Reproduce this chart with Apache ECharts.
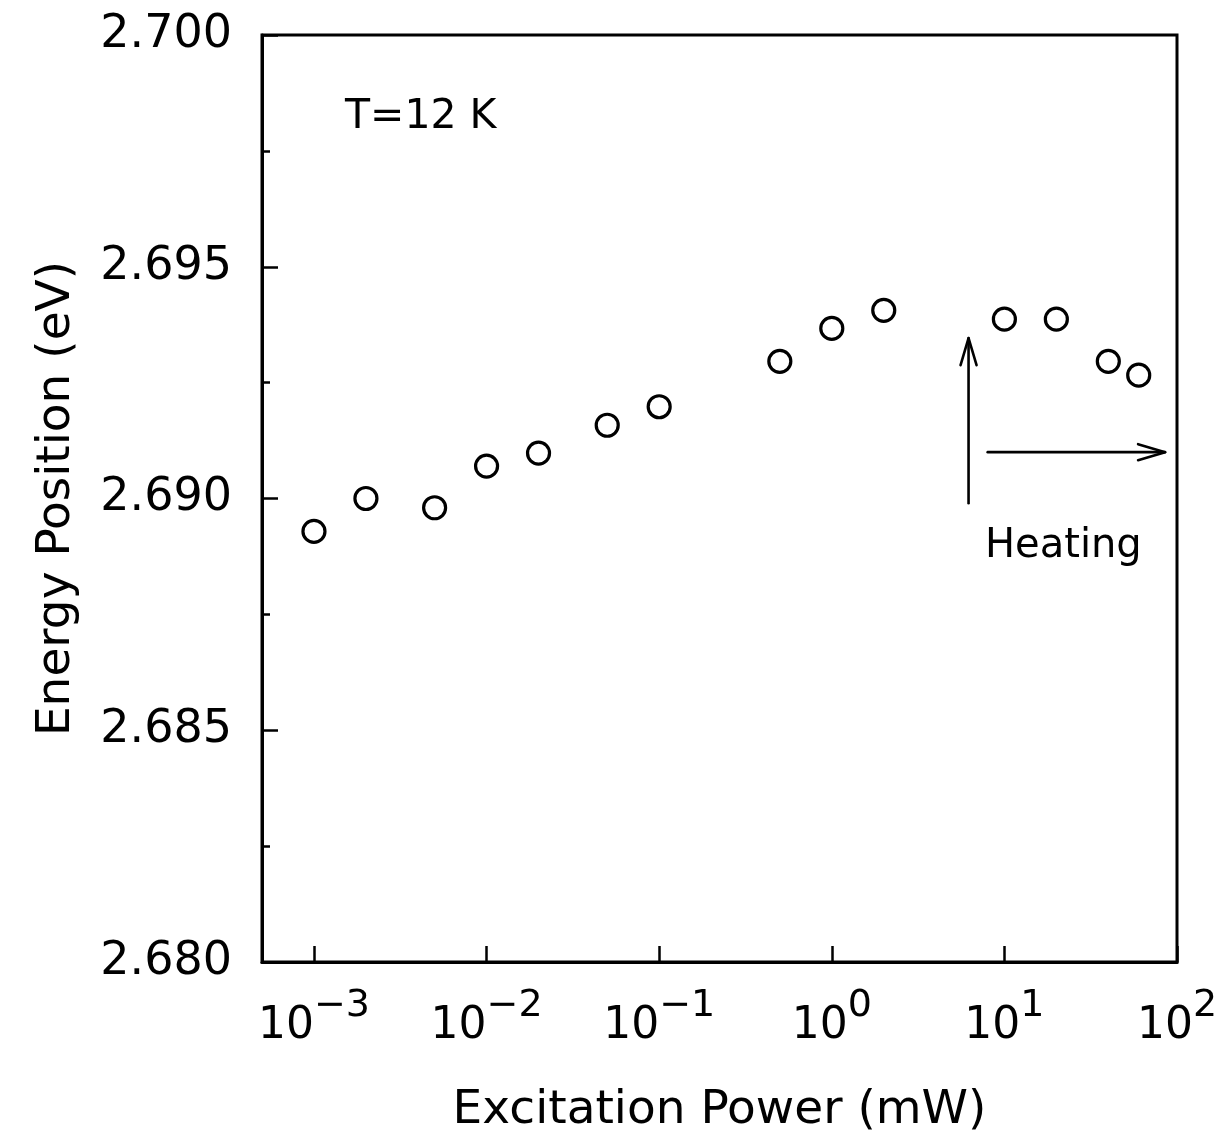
<!DOCTYPE html>
<html>
<head>
<meta charset="utf-8">
<title>Energy Position vs Excitation Power</title>
<script src="https://cdn.jsdelivr.net/npm/echarts@6/dist/echarts.min.js"></script>
<style>
  html, body { margin: 0; padding: 0; background: #fff; }
  #chart { width: 1227px; height: 1138px; }
</style>
</head>
<body>
<div id="chart"></div>
<script>
// Excitation power (mW) and PL peak energy position (eV) at T = 12 K
const power = [0.001, 0.002, 0.005, 0.01, 0.02, 0.05, 0.1, 0.5, 1, 2, 10, 20, 40, 60];
const energy = [2.68929, 2.69000, 2.68980, 2.69070, 2.69098, 2.69158, 2.69198,
                2.69296, 2.69367, 2.69406, 2.69387, 2.69387, 2.69296, 2.69266];

// Axis ranges and labelled decades
const xRange = [0.0005, 100];
const yRange = [2.680, 2.700];
const xDecades = [-3, -2, -1, 0, 1, 2];

// "Heating" annotation arrows: [start, end] in data coordinates
const arrowUp = [[6.2, 2.68990], [6.2, 2.69346]];
const arrowRight = [[8.0, 2.69100], [85.3, 2.69100]];

const FONT = 'DejaVu Sans';

const chart = echarts.init(document.getElementById('chart'), null, { renderer: 'canvas' });

chart.setOption({
  animation: false,
  backgroundColor: '#fff',
  grid: {
    left: 262, right: 50, top: 35, bottom: 176,
    containLabel: false,
    outerBoundsMode: 'none',
    show: true,
    borderColor: '#000',
    borderWidth: 3,
    backgroundColor: 'transparent'
  },
  xAxis: {
    type: 'log',
    logBase: 10,
    min: xRange[0],
    max: xRange[1],
    name: 'Excitation Power (mW)',
    nameLocation: 'middle',
    nameGap: 125,
    nameTextStyle: { fontFamily: FONT, fontSize: 47, color: '#000' },
    axisLine: { show: true, lineStyle: { color: '#000', width: 3 } },
    axisTick: { show: true, inside: true, length: 16, lineStyle: { color: '#000', width: 2.5 } },
    minorTick: { show: false },
    splitLine: { show: false },
    minorSplitLine: { show: false },
    axisLabel: {
      margin: 25,
      color: '#000',
      showMinLabel: true,
      showMaxLabel: true,
      formatter: function (v) {
        const e = Math.log10(v);
        const r = Math.round(e);
        if (Math.abs(e - r) > 1e-6 || xDecades.indexOf(r) < 0) return '';
        const exp = r < 0 ? '\u2212' + Math.abs(r) : String(r);
        return '{b|10}{s|' + exp + '}';
      },
      rich: {
        b: { fontFamily: FONT, fontSize: 44, lineHeight: 62, verticalAlign: 'bottom', color: '#000' },
        s: { fontFamily: FONT, fontSize: 38, verticalAlign: 'top', color: '#000' }
      }
    }
  },
  yAxis: {
    type: 'value',
    min: yRange[0],
    max: yRange[1],
    interval: 0.005,
    name: 'Energy Position (eV)',
    nameLocation: 'middle',
    nameGap: 182,
    nameRotate: 90,
    nameTextStyle: { fontFamily: FONT, fontSize: 47, color: '#000' },
    axisLine: { show: true, lineStyle: { color: '#000', width: 3 } },
    axisTick: { show: true, inside: true, length: 16, lineStyle: { color: '#000', width: 2.5 } },
    minorTick: { show: true, splitNumber: 2, length: 8, lineStyle: { color: '#000', width: 2.5 } },
    splitLine: { show: false },
    minorSplitLine: { show: false },
    axisLabel: {
      margin: 30,
      color: '#000',
      fontFamily: FONT,
      fontSize: 46,
      formatter: function (v) { return v.toFixed(3); }
    }
  },
  series: [{
    type: 'scatter',
    data: power.map(function (p, i) { return [p, energy[i]]; }),
    symbol: 'circle',
    symbolSize: 22,
    itemStyle: { color: '#fff', borderColor: '#000', borderWidth: 3.2, opacity: 1 },
    emphasis: { disabled: true },
    z: 3
  }],
  graphic: [
    {
      id: 'temp', type: 'text', x: 345, y: 117, silent: true,
      style: { text: 'T=12 K', fontFamily: FONT, fontSize: 41, fill: '#000', align: 'left', verticalAlign: 'middle' }
    },
    {
      id: 'heating', type: 'text', x: 985, y: 547, silent: true,
      style: { text: 'Heating', fontFamily: FONT, fontSize: 40, fill: '#000', align: 'left', verticalAlign: 'middle' }
    }
  ]
});

// Arrows with open heads, placed through the chart's own coordinate system
function arrowGraphics(id, from, to) {
  const a = chart.convertToPixel({ xAxisIndex: 0, yAxisIndex: 0 }, from);
  const b = chart.convertToPixel({ xAxisIndex: 0, yAxisIndex: 0 }, to);
  const dx = b[0] - a[0], dy = b[1] - a[1];
  const len = Math.sqrt(dx * dx + dy * dy);
  const ux = dx / len, uy = dy / len;
  const headLen = 27, headHalf = 8;
  const bx = b[0] - ux * headLen, by = b[1] - uy * headLen;
  const line = { stroke: '#000', lineWidth: 2.6, lineCap: 'round', lineJoin: 'round', fill: null };
  return [
    { id: id + '-shaft', type: 'line', silent: true, z: 10,
      shape: { x1: a[0], y1: a[1], x2: b[0], y2: b[1] }, style: line },
    { id: id + '-head', type: 'polyline', silent: true, z: 10,
      shape: { points: [[bx - uy * headHalf, by + ux * headHalf], [b[0], b[1]], [bx + uy * headHalf, by - ux * headHalf]] },
      style: line }
  ];
}

chart.setOption({
  graphic: arrowGraphics('up', arrowUp[0], arrowUp[1]).concat(arrowGraphics('right', arrowRight[0], arrowRight[1]))
});
</script>
</body>
</html>
